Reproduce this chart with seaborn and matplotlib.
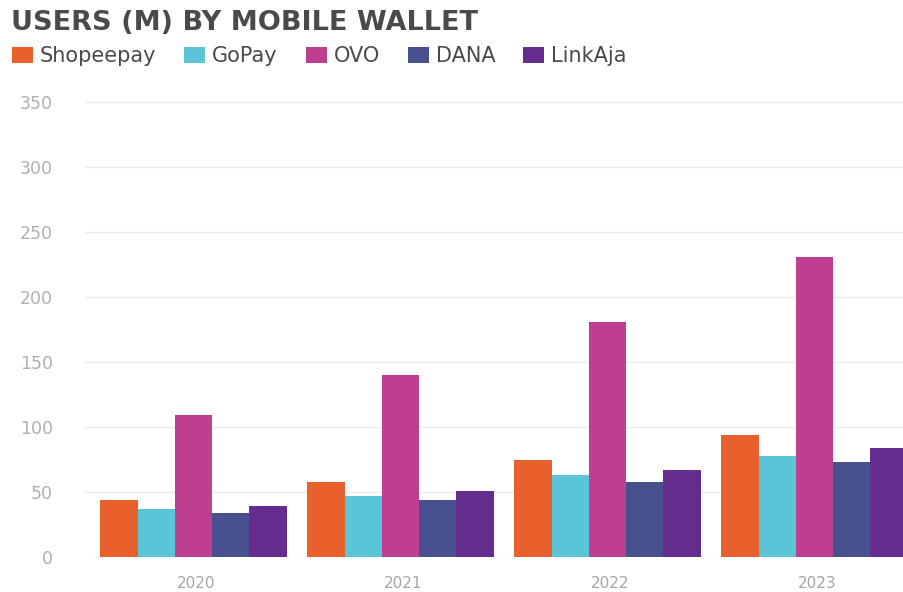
import matplotlib
matplotlib.use("Agg")
import matplotlib.pyplot as plt
import matplotlib.transforms as mtransforms
import seaborn as sns
import pandas as pd

years = ["2020", "2021", "2022", "2023"]
wallets = ["Shopeepay", "GoPay", "OVO", "DANA", "LinkAja"]
shopeepay = [44, 58, 75, 94]
gopay = [37, 47, 63, 78]
ovo = [109, 140, 181, 231]
dana = [34, 44, 58, 73]
linkaja = [39, 51, 67, 84]
colors = ["#E8602C", "#5BC4D6", "#BE3F8F", "#48508E", "#662D91"]
yticks = [0, 50, 100, 150, 200, 250, 300, 350]

series = [shopeepay, gopay, ovo, dana, linkaja]
rows = []
for w, vals in zip(wallets, series):
    for y, v in zip(years, vals):
        rows.append({"Year": y, "Wallet": w, "Users": v})
df = pd.DataFrame(rows)

sns.set_theme(style="white")
plt.rcParams["font.family"] = ["DejaVu Sans"]

fig = plt.figure(figsize=(9.04, 5.92), dpi=100)
ax = fig.add_axes([85 / 904, 35 / 592, (904 - 85) / 904, 455 / 592])

sns.barplot(data=df, x="Year", y="Users", hue="Wallet", order=years,
            hue_order=wallets, palette=colors, width=0.9, gap=0,
            saturation=1, ax=ax, linewidth=0)

ax.set_ylim(0, 350)
ax.set_xlim(-0.524, 3.432)
ax.set_yticks(yticks)
ax.set_xlabel("")
ax.set_ylabel("")
for s in ax.spines.values():
    s.set_visible(False)
ax.grid(axis="y", color="#ebebeb", linewidth=1)
ax.set_axisbelow(True)
ax.tick_params(axis="y", length=0, pad=23, labelsize=12.5, labelcolor="#b0b0b0")
ax.tick_params(axis="x", length=0, pad=14, labelsize=11, labelcolor="#a5a5a5")
shift = mtransforms.ScaledTranslation(3 / 100, 0, fig.dpi_scale_trans)
for lab in ax.get_xticklabels():
    lab.set_transform(lab.get_transform() + shift)

fig.text(11 / 904, 1 - 23 / 592, "USERS (M) BY MOBILE WALLET", fontsize=19.5,
         color="#4a4a4a", va="center", ha="left", fontweight="bold")

sns.move_legend(ax, loc="center left", bbox_to_anchor=(12 / 904, 1 - 56 / 592),
                bbox_transform=fig.transFigure, ncol=5, frameon=False,
                title=None, handlelength=1.0, handleheight=0.78,
                handletextpad=0.33, columnspacing=1.35, fontsize=15,
                labelcolor="#4a4a4a", borderaxespad=0, borderpad=0)

fig.savefig("out.png", dpi=100)
